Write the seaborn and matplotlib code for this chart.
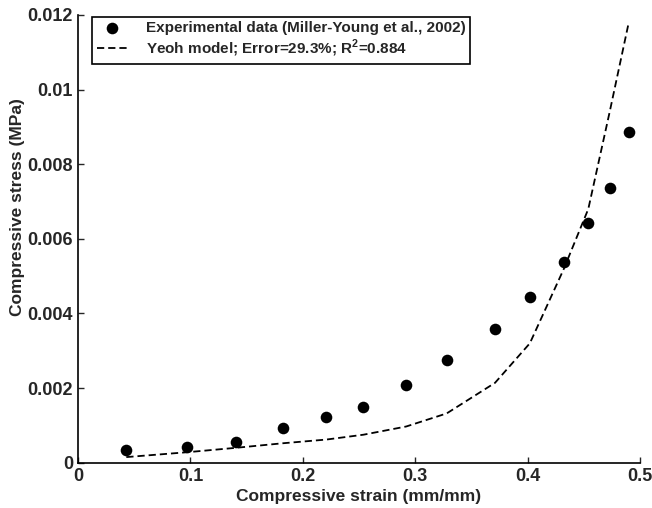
import numpy as np
import pandas as pd
import seaborn as sns
import matplotlib.pyplot as plt
from matplotlib.ticker import FormatStrFormatter

# experimental points
strain_exp = [0.043, 0.097, 0.141, 0.182, 0.221, 0.254, 0.292, 0.328, 0.371,
              0.402, 0.432, 0.454, 0.473, 0.490]
stress_exp = [0.00033, 0.00041, 0.00056, 0.00092, 0.00123, 0.00148, 0.00208,
              0.00275, 0.00359, 0.00445, 0.00537, 0.00642, 0.00735, 0.00886]

# Yeoh model evaluated at the same strains
stress_yeoh = [0.00015, 0.00028, 0.00040, 0.00052, 0.00062, 0.00075, 0.00097,
               0.00132, 0.00214, 0.00320, 0.00518, 0.00680, 0.00940, 0.01180]

xticks = [0, 0.1, 0.2, 0.3, 0.4, 0.5]
yticks = [0, 0.002, 0.004, 0.006, 0.008, 0.01, 0.012]

df = pd.DataFrame({'strain': strain_exp, 'stress': stress_exp, 'yeoh': stress_yeoh})

sns.set_style('ticks')
plt.rcParams['font.family'] = ['Liberation Sans', 'DejaVu Sans']
plt.rcParams['font.weight'] = 'bold'
plt.rcParams['mathtext.fontset'] = 'custom'
plt.rcParams['mathtext.rm'] = 'Liberation Sans:bold'
plt.rcParams['mathtext.bf'] = 'Liberation Sans:bold'

fig = plt.figure(figsize=(6.52, 5.08), dpi=100)
ax = fig.add_axes([0.1196, 0.0892, 0.862, 0.8813])

sns.scatterplot(ax=ax, data=df, x='strain', y='stress', color='black', s=70,
                edgecolor='black', linewidth=0,
                label='Experimental data (Miller-Young et al., 2002)')
sns.lineplot(ax=ax, data=df, x='strain', y='yeoh', color='black', lw=1.3,
             sort=False, estimator=None, dashes=False,
             label=r'Yeoh model; Error=29.3%; R$^{\mathrm{2}}$=0.884')
ax.lines[0].set_dashes([4, 2.2])

ax.set_xlim(0, 0.5)
ax.set_ylim(0, 0.012)
ax.set_xticks(xticks)
ax.set_yticks(yticks)
ax.xaxis.set_major_formatter(FormatStrFormatter('%g'))
ax.yaxis.set_major_formatter(FormatStrFormatter('%g'))
ax.tick_params(direction='in', length=4, width=1, labelsize=13)
ax.tick_params(axis='x', pad=4)
ax.tick_params(axis='y', pad=3.5)
for lab in ax.get_xticklabels() + ax.get_yticklabels():
    lab.set_fontweight('bold')
sns.despine(ax=ax)
for s in ['left', 'bottom']:
    ax.spines[s].set_linewidth(1.2)
    ax.spines[s].set_color('black')

ax.set_xlabel('Compressive strain (mm/mm)', fontsize=12.5, fontweight='bold')
ax.set_ylabel('Compressive stress (MPa)', fontsize=12.5, fontweight='bold')
ax.xaxis.set_label_coords(0.5, -0.058)
ax.yaxis.set_label_coords(-0.094, 0.57)

leg = ax.legend(loc='upper left', bbox_to_anchor=(0.025, 0.996), frameon=True,
                fancybox=False, edgecolor='black', framealpha=1,
                prop={'size': 11, 'weight': 'bold'}, handlelength=2.0,
                borderpad=0.3, labelspacing=0.15, handletextpad=1.2,
                borderaxespad=0)
leg.get_frame().set_linewidth(1.2)

fig.savefig('out.png', dpi=100)
